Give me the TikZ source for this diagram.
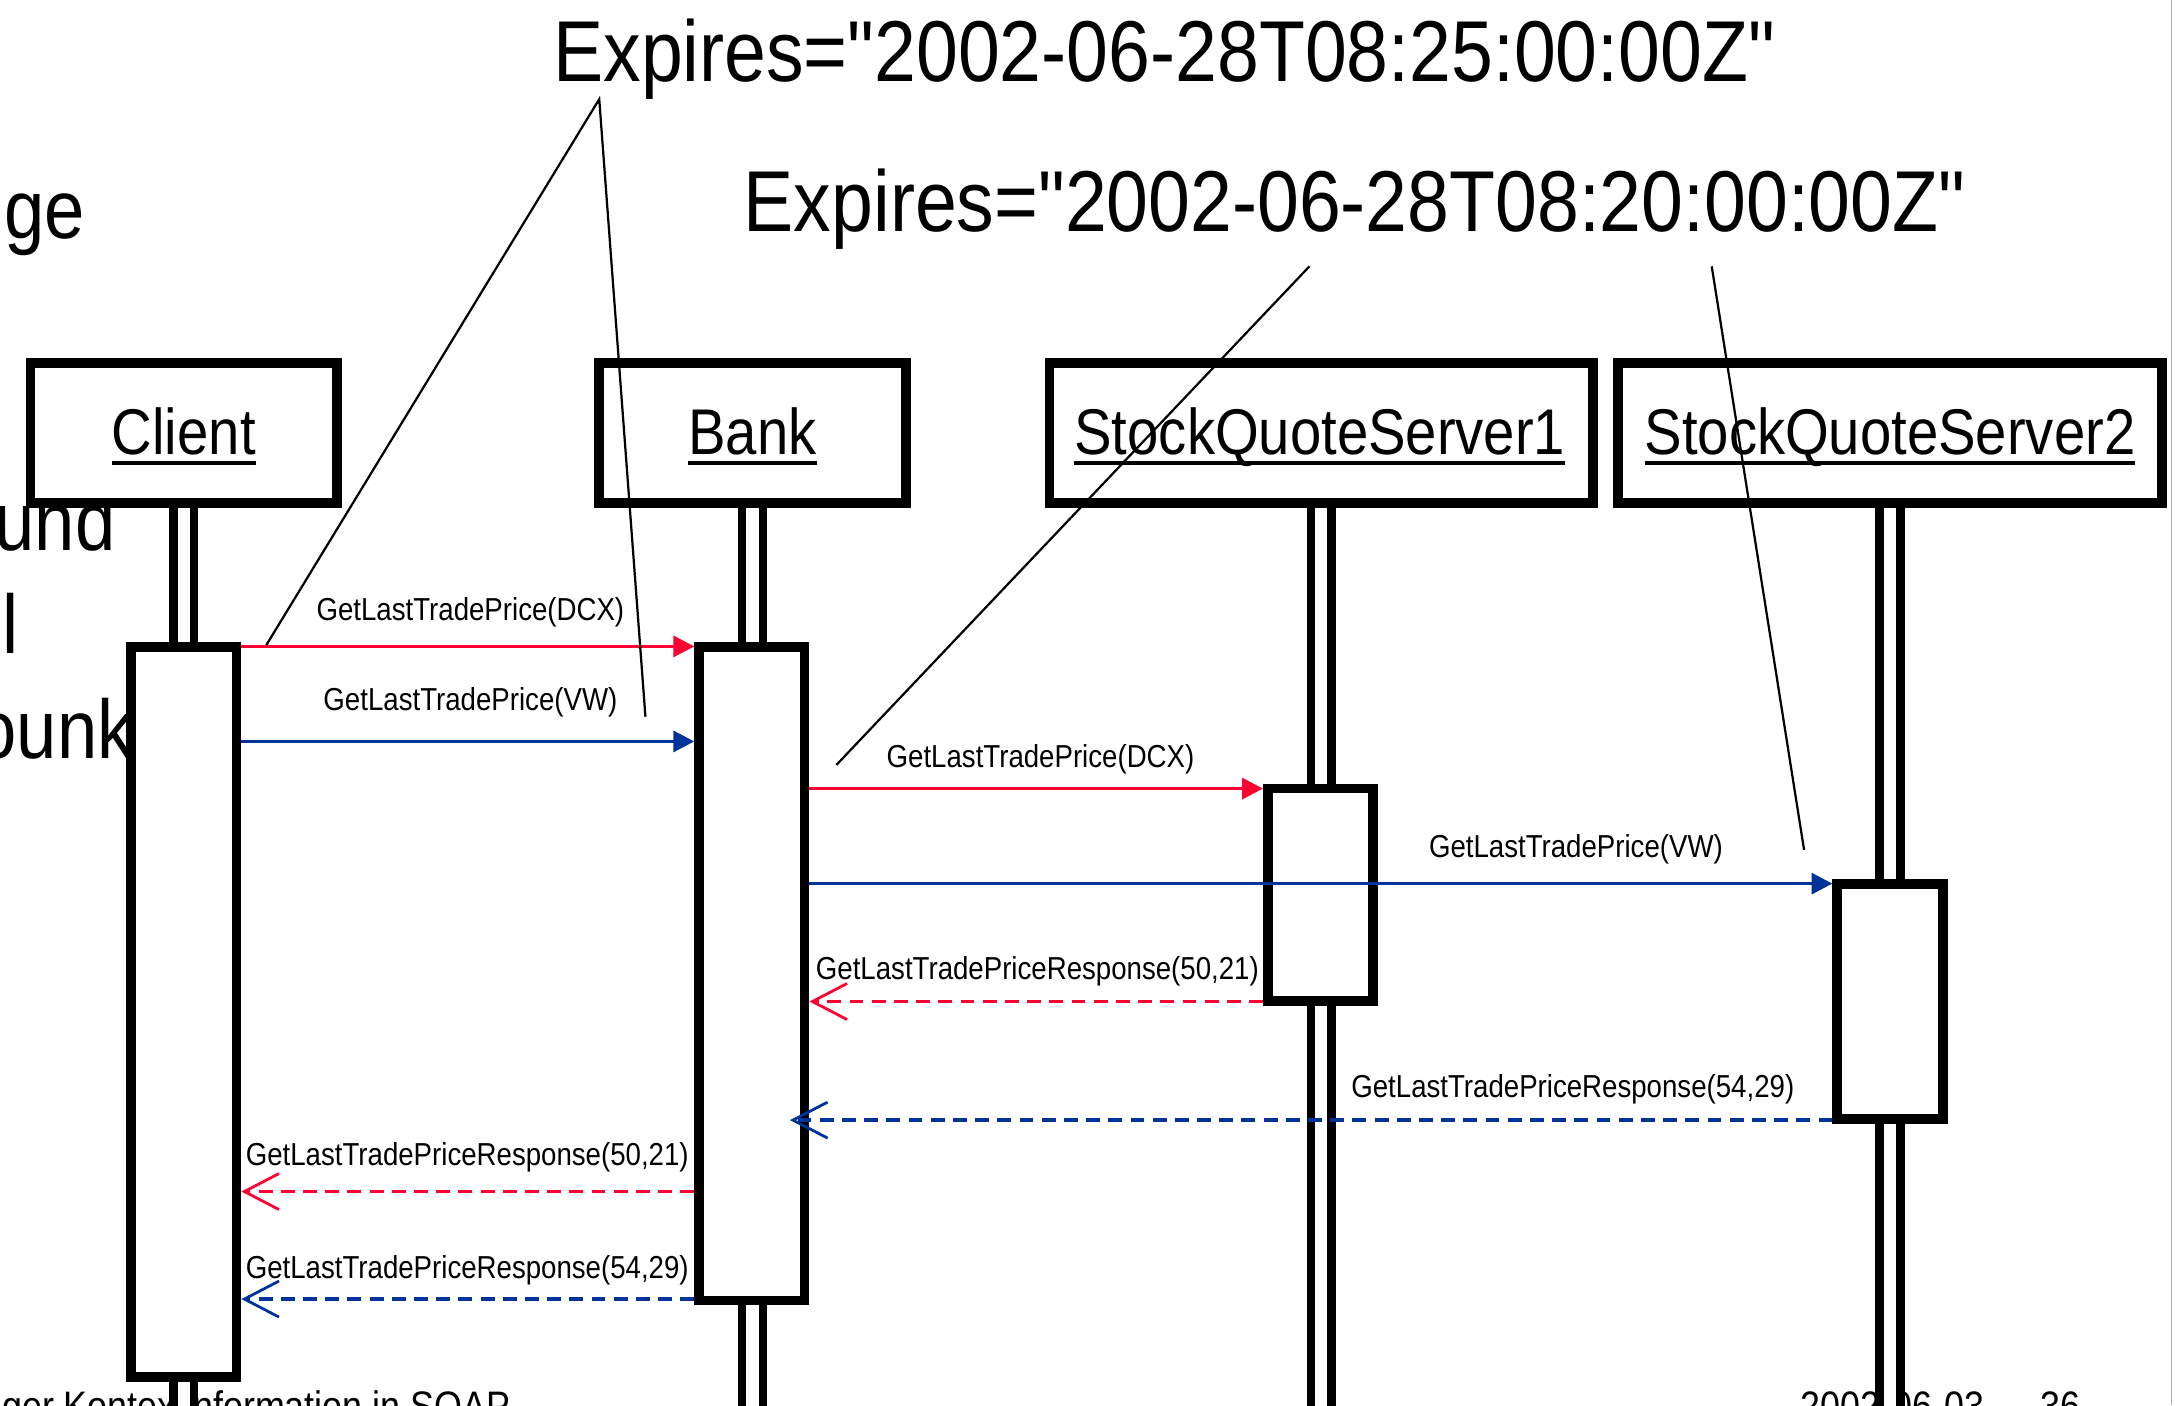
\documentclass[tikz,border=0pt]{standalone}
\usepackage{fontspec}
\setmainfont{Liberation Sans}[FakeStretch=0.87, Ligatures=TeXOff]
\usetikzlibrary{arrows.meta}
\definecolor{msgred}{RGB}{255,0,51}
\definecolor{msgblue}{RGB}{0,51,153}
\newsavebox\ulsavebox
\newcommand\ultext[1]{\sbox\ulsavebox{#1}\rlap{\vrule width\wd\ulsavebox height -4.5pt depth 7.5pt}\usebox\ulsavebox}
\begin{document}
\begin{tikzpicture}[x=1pt,y=-1pt,
  head/.style={draw, fill=white, line width=7pt, minimum height=101pt, inner sep=0pt},
  headtxt/.style={inner sep=0pt, anchor=base, font=\fontsize{46.6pt}{50pt}\selectfont},
  act/.style={draw, fill=white, line width=7pt, minimum width=76pt, inner sep=0pt},
  life/.style={line width=6pt, double=white, double distance=9pt},
  msg/.style={line width=2.6pt},
  call/.style={msg, -{Triangle[length=15pt,width=15pt]}},
  ret/.style={msg, dash pattern=on 10pt off 6pt, -{Straight Barb[length=25pt,width=26pt,line width=2pt]}},
  lab/.style={inner sep=0pt, anchor=base west, font=\fontsize{22.9pt}{26pt}\selectfont},
  big/.style={inner sep=0pt, anchor=base west, font=\fontsize{62.3pt}{70pt}\selectfont},
  bgtext/.style={inner sep=0pt, anchor=base west, font=\fontsize{60pt}{66pt}\selectfont},
  foot/.style={inner sep=0pt, font=\fontsize{29.7pt}{34pt}\selectfont},
  note/.style={line width=1.6pt}
]
\useasboundingbox (0,0) rectangle (1568,1013);
\clip (0,0) rectangle (1568,1013);

% background slide text (cut off)
\node[bgtext] (bgGe) at (3,172) {ge};
\node[bgtext] (bgUnd) at (-4,396.5) {und};
\node[bgtext] (bgL) at (1.5,471) {l};
\node[bgtext] (bgOunk) at (-17,546.5) {ounk};
\node[foot, anchor=base east] (footL) at (368,1024) {ger Kontextinformation in SOAP};
\node[foot, anchor=base west] (footD) at (1298,1024) {2002-06-03};
\node[foot, anchor=base west] (footP) at (1471,1024) {36};

% heads
\node[head, minimum width=221pt] (client) at (132.5,312) {};
\node[head, minimum width=221pt] (bank) at (542.5,312) {};
\node[head, minimum width=392pt] (sqs1) at (952.5,312) {};
\node[head, minimum width=392pt] (sqs2) at (1362.5,312) {};
\node[headtxt] (clientT) at (132.5,328) {\ultext{Client}};
\node[headtxt] (bankT) at (542.5,328) {\ultext{Bank}};
\node[headtxt] (sqs1T) at (951.5,328) {\ultext{StockQuoteServer1}};
\node[headtxt] (sqs2T) at (1362.5,328) {\ultext{StockQuoteServer2}};

% lifelines
\coordinate (lifeEnd) at (0,1040);
\draw[life] (client.south) -- (client.south |- lifeEnd);
\draw[life] (bank.south) -- (bank.south |- lifeEnd);
\draw[life] (sqs1.south) -- (sqs1.south |- lifeEnd);
\draw[life] (sqs2.south) -- (sqs2.south |- lifeEnd);

% activations
\node[act, minimum height=526pt] (cA) at (132.5,729.5) {};
\node[act, minimum height=471pt] (bA) at (542,702) {};
\node[act, minimum height=153pt] (s1A) at (952,645) {};
\node[act, minimum height=169pt] (s2A) at (1362.5,722) {};

% message levels
\coordinate (y1) at (0,466);
\coordinate (y2) at (0,534.5);
\coordinate (y3) at (0,568.5);
\coordinate (y4) at (0,637);
\coordinate (y5) at (0,722);
\coordinate (y6) at (0,807.5);
\coordinate (y7) at (0,859);
\coordinate (y8) at (0,936.5);

\draw[call, msgred] (cA.east |- y1) -- (bA.west |- y1);
\draw[call, msgblue] (cA.east |- y2) -- (bA.west |- y2);
\draw[call, msgred] (bA.east |- y3) -- (s1A.west |- y3);
\draw[call, msgblue] (bA.east |- y4) -- (s2A.west |- y4);
\draw[ret, msgred] (s1A.west |- y5) -- (bA.east |- y5);
\draw[ret, msgblue, shorten >=-14pt] (s2A.west |- y6) -- (bA.east |- y6);
\draw[ret, msgred] (bA.west |- y7) -- (cA.east |- y7);
\draw[ret, msgblue] (bA.west |- y8) -- (cA.east |- y8);

\node[lab] (l1) at (228,447.5) {GetLastTradePrice(DCX)};
\node[lab] (l2) at (233,512.5) {GetLastTradePrice(VW)};
\node[lab] (l3) at (639,553) {GetLastTradePrice(DCX)};
\node[lab] (l4) at (1030,618) {GetLastTradePrice(VW)};
\node[lab] (l5) at (588,706) {GetLastTradePriceResponse(50,21)};
\node[lab] (l6) at (974,791) {GetLastTradePriceResponse(54,29)};
\node[lab] (l7) at (177,840) {GetLastTradePriceResponse(50,21)};
\node[lab] (l8) at (177,922) {GetLastTradePriceResponse(54,29)};

% expiry notes
\node[big] (exp1) at (398.7,59) {Expires="2002-06-28T08:25:00:00Z"};
\node[big] (exp2) at (536,167) {Expires="2002-06-28T08:20:00:00Z"};
\coordinate (apex1) at (432,71.5);
\coordinate (n1a) at (192,465);
\coordinate (n1b) at (465.3,516.7);
\coordinate (top2a) at (944,192);
\coordinate (n2a) at (602.9,551.5);
\coordinate (top2b) at (1234,192);
\coordinate (n2b) at (1300.6,612.8);
\draw[note] (n1a) -- (apex1) -- (n1b);
\draw[note] (top2a) -- (n2a);
\draw[note] (top2b) -- (n2b);

% slide edge
\draw[gray!60, line width=1pt] (1565.5,0) -- (1565.5,1013);
\end{tikzpicture}
\end{document}
